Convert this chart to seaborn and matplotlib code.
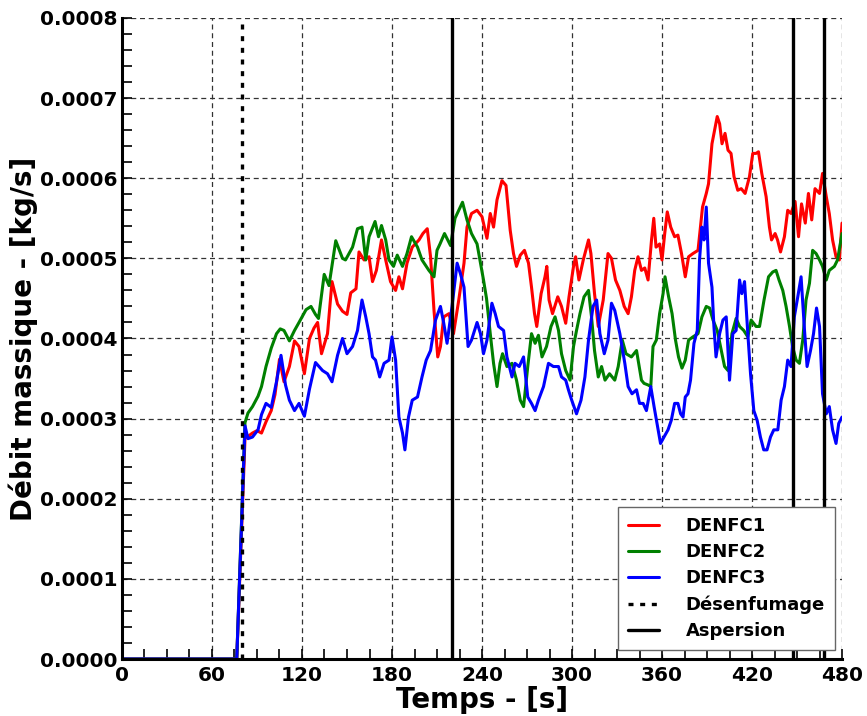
import numpy as np
import pandas as pd
import seaborn as sns
from matplotlib import pyplot as plt
from matplotlib.ticker import MultipleLocator, FormatStrFormatter

# values, y in units of 1e-4 kg/s
t_denfc1 = [0, 76.5, 82, 87, 90, 93, 96, 99.5, 102, 105, 108, 111.6, 115, 118, 121.6, 125, 128, 130.4, 133, 137,
            140, 143.7, 147, 150, 152.5, 156, 158, 161.4, 164.7, 167, 169.6, 173, 175.8, 179, 182.4, 184.6, 187, 190,
            193.5, 198, 200.6, 203.5, 205.7, 208, 210.5, 212.3, 214.5, 218, 221, 224.5, 228, 230, 233, 236.7, 240,
            243.3, 245.5, 247.7, 250, 253.3, 256, 258.8, 261, 263, 265.5, 268.3, 271, 273, 275, 276.5, 279.4, 282,
            283.2, 284.7, 287, 290.5, 293, 295.8, 298, 301, 302.4, 304.6, 307.5, 311, 312.6, 315, 317.5, 320.8, 324,
            326.3, 329, 331.9, 334.8, 337.4, 339.6, 341.8, 344, 346.3, 348.5, 350.7, 353, 354.5, 356, 358.4, 360,
            361.8, 363.5, 365.8, 368.4, 370.6, 373, 375.5, 377.7, 380.6, 384, 387, 389.5, 391, 393.3, 396.8, 398.4,
            400, 402, 404, 406, 408, 410.5, 412.8, 415.4, 418.3, 420.5, 422.7, 424.3, 426.5, 429.4, 431.6, 433,
            435.4, 437, 439, 441.6, 443.8, 446, 448.7, 451, 453, 455.5, 457.6, 459.8, 462, 465, 467, 469.5, 471.5,
            473.7, 476, 478.2, 480]
denfc1 = [0, 0, 2.75, 2.82, 2.85, 2.82, 2.96, 3.1, 3.3, 3.74, 3.46, 3.65, 3.97, 3.9, 3.56, 4.0, 4.13, 4.2, 3.81, 4.06,
          4.71, 4.43, 4.34, 4.3, 4.57, 4.62, 5.08, 4.98, 5.02, 4.71, 4.85, 5.23, 4.98, 4.71, 4.6, 4.77, 4.62, 4.94,
          5.14, 5.23, 5.31, 5.37, 5.02, 4.35, 3.77, 3.9, 4.27, 4.31, 4.06, 4.48, 4.94, 5.39, 5.56, 5.6, 5.52,
          5.25, 5.56, 5.39, 5.73, 5.97, 5.91, 5.35, 5.06, 4.9, 5.04, 5.1, 4.94, 4.64, 4.31, 4.15, 4.56, 4.77,
          4.9, 4.48, 4.31, 4.52, 4.4, 4.19, 4.52, 4.9, 5.02, 4.73, 4.98, 5.23, 5.06, 4.56, 4.15, 4.48, 5.06,
          5.0, 4.73, 4.6, 4.4, 4.31, 4.52, 4.85, 5.02, 4.85, 4.88, 4.73, 5.23, 5.5, 5.14, 5.18, 4.98,
          5.31, 5.58, 5.39, 5.27, 5.29, 5.06, 4.77, 5.02, 5.06, 5.1, 5.64, 5.81, 5.93, 6.43, 6.77, 6.68,
          6.43, 6.56, 6.35, 6.31, 6.02, 5.85, 5.87, 5.81, 6.02, 6.31, 6.31, 6.33, 6.06, 5.77, 5.39, 5.23,
          5.31, 5.23, 5.08, 5.27, 5.6, 5.56, 5.71, 5.27, 5.68, 5.44, 5.81, 5.48, 5.87, 5.81, 6.06, 5.77, 5.56,
          5.23, 5.02, 4.98, 5.44]

t_denfc2 = [0, 76.5, 82, 84, 87, 90.7, 93, 96, 99.5, 103, 105.5, 108, 111.6, 115, 118, 122.7, 126, 129, 131, 134.8,
            138, 142.5, 147, 149, 153.7, 157, 160, 162.5, 164.7, 168.7, 171, 173, 175.8, 178, 181, 183.5, 187, 190,
            193, 197, 200, 204.6, 208, 210, 212, 215, 219, 222, 227, 230, 233, 236.7, 239, 241, 243, 245.5, 247.7,
            250, 252, 253.7, 256.6, 260, 263, 265.5, 267.7, 270.5, 273, 275.4, 277.6, 280, 283, 286, 288.7, 291,
            293, 295.8, 298.7, 301, 303, 305.3, 308, 311, 313, 315, 317.5, 319.7, 322, 325, 328.5, 330.8, 333.5,
            336, 339.6, 343, 346.3, 348, 350.7, 352.5, 354, 356.2, 358.4, 360.7, 362, 364.4, 366.7, 369, 371,
            373.3, 375.5, 377.7, 380.6, 384, 386.6, 389.5, 391.7, 394, 396.8, 399.5, 401.7, 404, 406.6, 409.4,
            411.7, 414.5, 417.2, 419.4, 422.7, 425, 428, 431, 433.8, 436, 438, 440.5, 442.7, 445, 447, 449.4,
            451.6, 453.8, 456, 458.3, 460.4, 462.7, 465, 467, 469.5, 471.5, 474.9, 477, 480]
denfc2 = [0, 0, 2.95, 3.07, 3.15, 3.28, 3.4, 3.65, 3.88, 4.06, 4.12, 4.1, 3.97, 4.1, 4.2, 4.36, 4.4, 4.3, 4.25, 4.8,
          4.66, 5.22, 5.0, 4.98, 5.14, 5.37, 5.39, 4.98, 5.27, 5.46, 5.27, 5.41, 5.23, 4.98, 4.9, 5.04, 4.9, 5.06,
          5.27, 5.14, 4.98, 4.85, 4.77, 5.1, 5.18, 5.31, 5.16, 5.5, 5.7, 5.48, 5.31, 5.18, 4.94, 4.73, 4.5, 4.06,
          3.69, 3.4, 3.69, 3.81, 3.65, 3.69, 3.48, 3.23, 3.15, 3.65, 4.06, 3.94, 4.04, 3.77, 3.9, 4.15, 4.27,
          4.1, 3.81, 3.6, 3.48, 3.9, 4.1, 4.31, 4.52, 4.6, 4.27, 3.85, 3.52, 3.65, 3.48, 3.56, 3.48, 3.65, 3.98,
          3.81, 3.77, 3.85, 3.48, 3.44, 3.42, 3.4, 3.9, 3.98, 4.31, 4.56, 4.77, 4.52, 4.31, 3.98, 3.77,
          3.63, 3.73, 3.98, 4.02, 4.06, 4.27, 4.4, 4.38, 4.23, 4.1, 3.85, 3.65, 3.6, 4.06, 4.25,
          4.15, 4.1, 4.02, 4.23, 4.15, 4.15, 4.48, 4.77, 4.83, 4.85, 4.73, 4.6, 4.4, 4.15, 3.9, 3.73,
          3.69, 3.98, 4.48, 4.69, 5.1, 5.06, 4.98, 4.9, 4.73, 4.85, 4.9, 4.98, 5.31]

t_denfc3 = [0, 76.5, 82, 84, 87, 90.7, 93, 96, 99.5, 103, 106, 109, 111.6, 115, 118, 121.6, 125, 129, 133.7, 137,
            140, 143.7, 147, 150, 153.7, 157, 160, 162.5, 164.7, 167, 169, 171.8, 174.7, 178, 180, 182.4, 184.6,
            187, 188.6, 191, 193.5, 197, 200, 202.8, 205.7, 209, 212.3, 214.5, 216.7, 220, 223.4, 225.6, 228,
            230.7, 233, 236.7, 239, 241, 243.3, 246.6, 248.8, 251, 254.4, 256.6, 260, 262, 264.8, 267.7, 270.5,
            273, 275.4, 277.6, 281, 284.3, 287.6, 291, 293, 295.8, 297.6, 299.8, 303, 306, 308.6, 311, 314,
            316.4, 318.6, 321.5, 324, 326.3, 328.5, 331.9, 335.2, 337.4, 340, 343, 345, 347.4, 349.6, 352.5,
            354.7, 357, 359, 361.3, 364, 366.2, 368.4, 370.6, 372.4, 374, 375.5, 377.3, 379, 381.3, 383.5, 385,
            386.6, 388, 389.5, 391, 393.3, 394.6, 396, 398.4, 400.6, 402.8, 405, 407.2, 409.4, 411.7, 413.2,
            415, 417.2, 419, 421.2, 423.4, 425.6, 427.8, 430, 432.3, 434.5, 437.2, 439.4, 441.6, 443.8, 446,
            448.2, 450.5, 452.7, 455, 456.7, 459, 461, 463, 465, 467, 469.5, 471.5, 473.7, 476, 477.8, 480]
denfc3 = [0, 0, 2.91, 2.75, 2.77, 2.86, 3.05, 3.19, 3.14, 3.46, 3.79, 3.42, 3.23, 3.1, 3.19, 3.03, 3.37, 3.7, 3.6, 3.56,
          3.46, 3.79, 4.0, 3.81, 3.9, 4.1, 4.48, 4.27, 4.06, 3.77, 3.73, 3.52, 3.69, 3.73, 4.02, 3.73, 3.02,
          2.82, 2.61, 3.02, 3.23, 3.27, 3.52, 3.73, 3.85, 4.23, 4.4, 4.19, 3.94, 4.4, 4.94, 4.81, 4.64,
          3.9, 3.98, 4.2, 4.06, 3.81, 3.98, 4.44, 4.31, 4.15, 4.1, 3.77, 3.52, 3.69, 3.65, 3.77, 3.27,
          3.19, 3.1, 3.23, 3.4, 3.69, 3.65, 3.65, 3.52, 3.48, 3.36, 3.23, 3.06, 3.23, 3.52, 3.98, 4.4,
          4.48, 4.06, 3.81, 3.98, 4.44, 4.35, 4.06, 3.69, 3.4, 3.31, 3.36, 3.19, 3.19, 3.1, 3.4,
          3.15, 2.9, 2.69, 2.77, 2.86, 2.98, 3.19, 3.19, 3.06, 3.02, 3.27, 3.31, 3.48, 3.94, 4.1, 4.98,
          5.39, 5.23, 5.64, 4.94, 4.64, 4.15, 3.77, 4.06, 4.23, 4.27, 3.48, 4.06, 4.1, 4.73, 4.56,
          4.71, 4.06, 3.56, 3.1, 2.98, 2.77, 2.61, 2.61, 2.77, 2.86, 2.86, 3.23, 3.4, 3.73, 3.65,
          4.27, 4.52, 4.77, 4.1, 3.65, 3.85, 4.06, 4.38, 4.15, 3.31, 3.06, 3.15, 2.86, 2.69, 2.94, 3.02]

series_names = ["DENFC1", "DENFC2", "DENFC3"]
t_desenfumage = [80]
t_aspersion = [220, 447, 468]

frames = []
for name, t, v in zip(series_names, [t_denfc1, t_denfc2, t_denfc3], [denfc1, denfc2, denfc3]):
    frames.append(pd.DataFrame({"Temps": t, "Debit": np.array(v) * 1e-4, "Serie": name}))
df = pd.concat(frames, ignore_index=True)

sns.set_style("ticks")
plt.rcParams["font.family"] = ["DejaVu Sans"]
plt.rcParams["font.weight"] = "bold"
for key in ["text.color", "axes.labelcolor", "xtick.color", "ytick.color", "axes.edgecolor"]:
    plt.rcParams[key] = "black"

fig = plt.figure(figsize=(8.67, 7.16), dpi=100)
ax = fig.add_axes([0.1407, 0.0796, 0.8305, 0.8953])

sns.lineplot(data=df, x="Temps", y="Debit", hue="Serie", estimator=None, sort=False,
             palette={"DENFC1": "#ff0000", "DENFC2": "#008000", "DENFC3": "#0000ff"},
             linewidth=2.2, ax=ax)

for i, t in enumerate(t_desenfumage):
    ax.axvline(t, color="black", linewidth=2.4, linestyle=(0, (1.2, 1.2)),
               label="Désenfumage" if i == 0 else None, zorder=3)
for i, t in enumerate(t_aspersion):
    ax.axvline(t, color="black", linewidth=2.4, label="Aspersion" if i == 0 else None, zorder=3)

ax.set_xlim(0, 480)
ax.set_ylim(0, 0.0008)
ax.xaxis.set_major_locator(MultipleLocator(60))
ax.xaxis.set_minor_locator(MultipleLocator(15))
ax.yaxis.set_major_locator(MultipleLocator(0.0001))
ax.yaxis.set_minor_locator(MultipleLocator(0.00002))
ax.yaxis.set_major_formatter(FormatStrFormatter("%.4f"))

ax.grid(True, which="major", color="0.2", linestyle=(0, (4, 3)), linewidth=0.9)
ax.tick_params(which="both", direction="in", length=7, width=1.2, labelsize=14.5,
               colors="black", top=False, right=False)
ax.tick_params(axis="x", pad=5)
for lab in ax.get_xticklabels() + ax.get_yticklabels():
    lab.set_fontweight("bold")

sns.despine(ax=ax, top=True, right=True)
ax.spines["left"].set_linewidth(2.2)
ax.spines["bottom"].set_linewidth(2.2)

ax.set_xlabel("Temps - [s]", fontsize=20, fontweight="bold", labelpad=1)
ax.set_ylabel("Débit massique - [kg/s]", fontsize=20, fontweight="bold", labelpad=1)

handles, labels = ax.get_legend_handles_labels()
handles[3].set_linestyle((0, (1.5, 2.0)))
leg = ax.legend(handles, labels, loc="lower right", bbox_to_anchor=(0.99, 0.014),
                borderaxespad=0, fancybox=False, edgecolor="0.4", framealpha=1,
                prop={"size": 13, "weight": "bold"}, handlelength=1.7, labelspacing=0.45,
                handletextpad=1.5, borderpad=0.55)
leg.get_frame().set_linewidth(1.0)

plt.savefig("out.png", dpi=100)
